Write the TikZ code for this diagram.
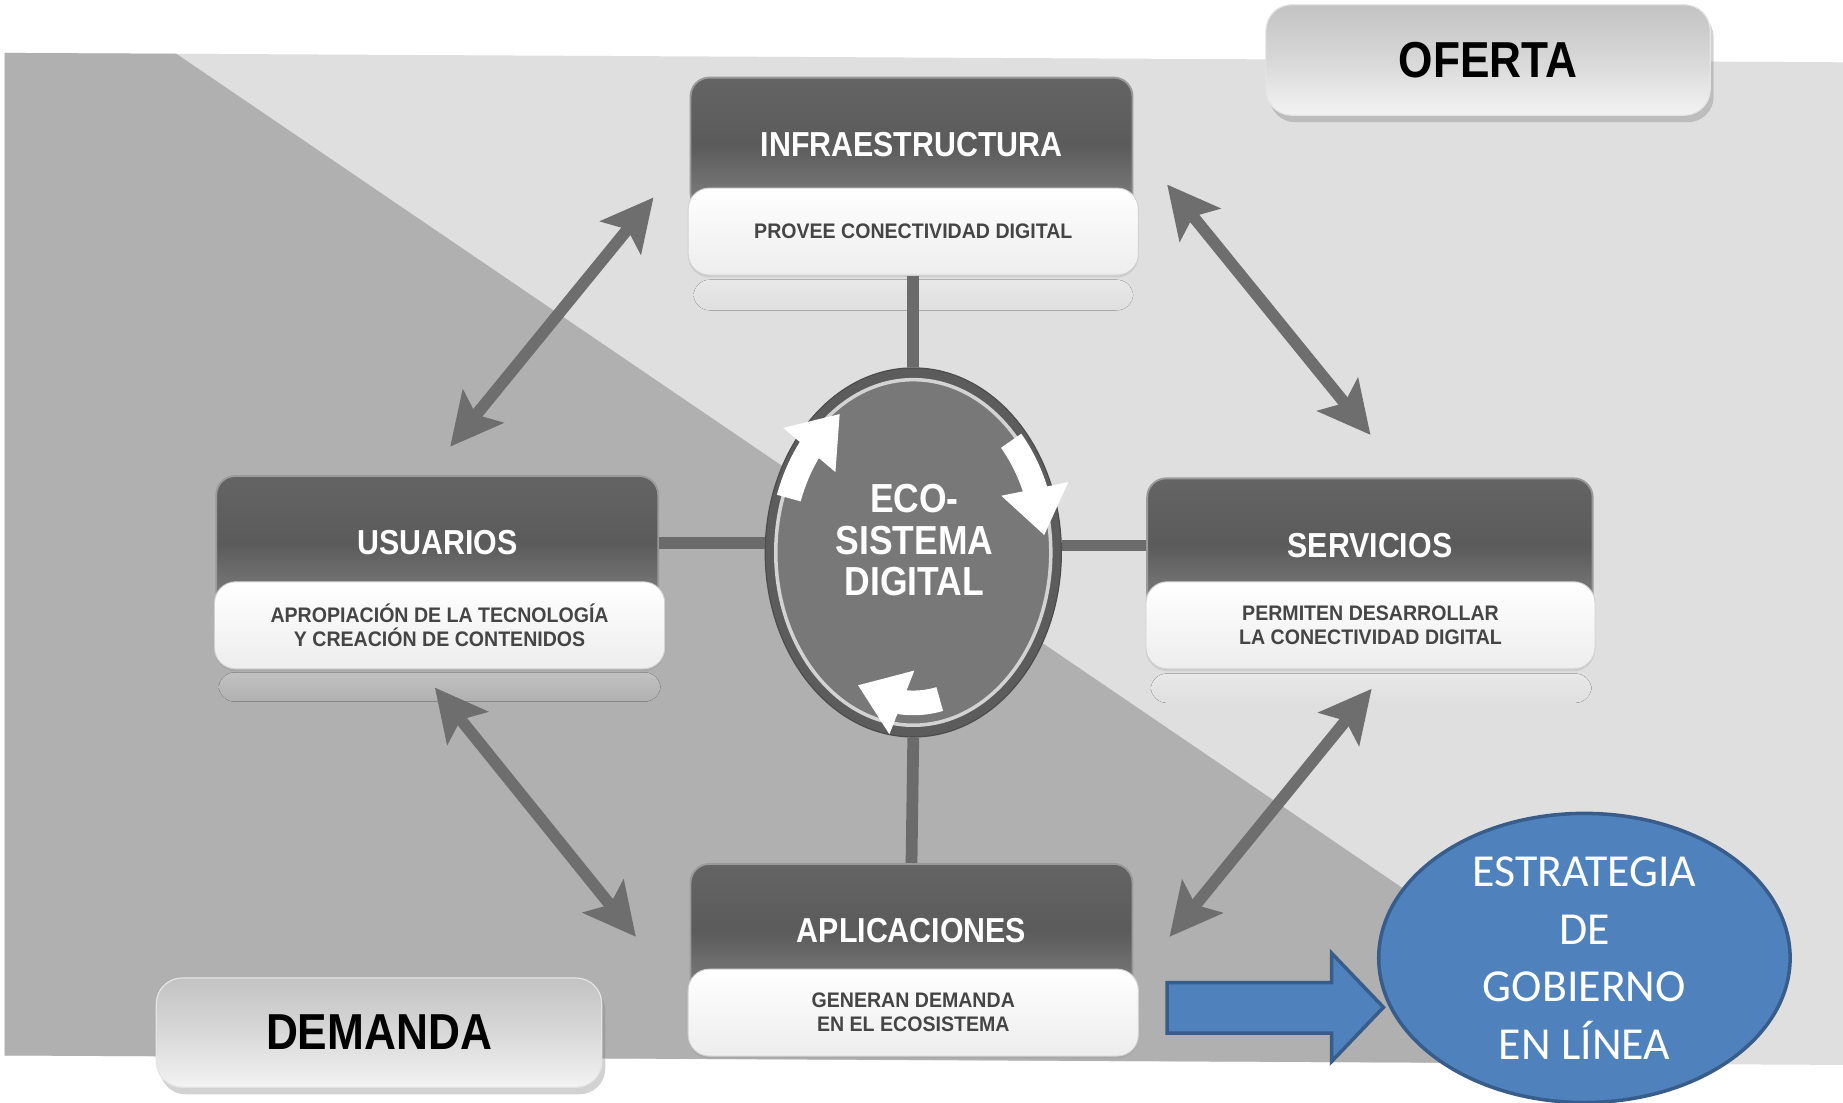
\documentclass[tikz,border=0pt]{standalone}
\usepackage{fontspec}
\setmainfont{Liberation Sans}
\newfontfamily\condfont[FakeStretch=0.875]{Liberation Sans}
\newfontfamily\subfontfam[FakeStretch=0.93]{Liberation Sans}
\newfontfamily\calib{Carlito}
\usetikzlibrary{shapes.geometric,arrows.meta,shadows,calc}
\definecolor{bgLight}{HTML}{DFDFDF}
\definecolor{bgDark}{HTML}{B0B0B0}
\definecolor{boxTop}{HTML}{646464}
\definecolor{boxMid}{HTML}{5B5B5B}
\definecolor{boxBot}{HTML}{828282}
\definecolor{boxEdge}{HTML}{9A9A9A}
\definecolor{whiteBot}{HTML}{EDEDED}
\definecolor{whiteEdge}{HTML}{D2D2D2}
\definecolor{subText}{HTML}{454545}
\definecolor{connGray}{HTML}{6B6B6B}
\definecolor{arrGray}{HTML}{6E6E6E}
\definecolor{ringDark}{HTML}{5C5C5C}
\definecolor{ringFill}{HTML}{787878}
\definecolor{ringLine}{HTML}{D3D3D3}
\definecolor{lblTop}{HTML}{C3C3C3}
\definecolor{lblMid}{HTML}{D8D8D8}
\definecolor{lblBot}{HTML}{F3F3F3}
\definecolor{lblEdge}{HTML}{E4E4E4}
\definecolor{govBlue}{HTML}{4F81BD}
\definecolor{govEdge}{HTML}{385D8A}
\tikzset{
  darkpart/.style={rectangle, rounded corners=16pt, minimum width=376pt, minimum height=114pt, inner sep=0pt,
    top color=boxTop, bottom color=boxBot, middle color=boxMid, draw=boxEdge, line width=1.6pt,
    text=white, font=\condfont\bfseries\fontsize{29.5}{32}\selectfont},
  whitepart/.style={rectangle, rounded corners=18pt, minimum width=383pt, minimum height=74pt, inner sep=0pt,
    top color=white, bottom color=whiteBot, draw=whiteEdge, line width=0.8pt, align=center,
    text=subText, font=\subfontfam\bfseries\fontsize{17.9}{20.5}\selectfont,
    drop shadow={shadow xshift=0pt, shadow yshift=-2pt, opacity=0.18}},
  labelbox/.style={rectangle, rounded corners=22pt, minimum width=378pt, minimum height=94pt, inner sep=0pt,
    top color=lblTop, bottom color=lblBot, middle color=lblMid, draw=lblEdge, line width=1pt,
    text=black, font=\condfont\bfseries\fontsize{43}{46}\selectfont,
    drop shadow={shadow xshift=3pt, shadow yshift=-6pt, opacity=0.35}},
  conn/.style={draw=connGray, line width=10pt},
  dbl/.style={draw=arrGray, line width=10pt,
    {Stealth[length=44pt,width=44pt,inset=9pt]}-{Stealth[length=44pt,width=44pt,inset=9pt]}},
  ringbody/.style={draw=white, line width=21pt},
  ringhead/.style={draw=white, line width=1pt, -{Triangle[length=40pt,width=58pt,fill=white]}},
  reflect/.style={rounded corners=14pt},
}
\begin{document}
\begin{tikzpicture}[x=1pt,y=-1pt]
\useasboundingbox (0,0) rectangle (1568,938);
% background bands
\fill[white] (0,0) rectangle (1568,938);
\fill[bgLight] (4,45) -- (1568,53) -- (1568,906) -- (4,898) -- cycle;
\fill[bgDark] (4,45) -- (150,45.7) -- (1413,905) -- (4,898) -- cycle;

% faint reflections under the boxes
\fill[reflect, top color=white!28!bgLight, bottom color=bgLight] (590,238) rectangle (964,264);
\fill[reflect, top color=white!22!bgDark, bottom color=bgDark] (186,572) rectangle (562,597);
\fill[reflect, top color=white!28!bgLight, bottom color=bgLight] (979,573) rectangle (1354,598);

% four boxes
\node[darkpart] (infT) at (775.5,123) {INFRAESTRUCTURA};
\node[whitepart] (infW) at (777,197) {PROVEE CONECTIVIDAD DIGITAL};

\node[darkpart] (usrT) at (372,462) {USUARIOS};
\node[whitepart] (usrW) at (374,532) {APROPIACIÓN DE LA TECNOLOGÍA\\Y CREACIÓN DE CONTENIDOS};

\node[darkpart, minimum width=379pt] (srvT) at (1165.5,464) {SERVICIOS};
\node[whitepart, minimum width=382pt] (srvW) at (1166,532) {PERMITEN DESARROLLAR\\LA CONECTIVIDAD DIGITAL};

\node[darkpart] (aplT) at (775.5,792) {APLICACIONES};
\node[whitepart] (aplW) at (777,861.5) {GENERAN DEMANDA\\EN EL ECOSISTEMA};

% central ecosystem ellipse
\node[ellipse, minimum width=252pt, minimum height=314pt, inner sep=0pt, fill=ringDark, draw=black!70, line width=1pt,
  path picture={\draw[fill=ringFill, draw=ringLine, line width=3pt]
     (path picture bounding box.center) ellipse [x radius=117pt, y radius=147pt];}] (eco) at (777,470) {};
\node[font=\condfont\bfseries\fontsize{34.5}{35.5}\selectfont, text=white, align=center, inner sep=0pt]
  (ecotxt) at (778,459.5) {ECO-\\SISTEMA\\DIGITAL};

% ring arrows (clockwise): curved body + head
\draw[ringbody] plot[domain=161:140, samples=30] ({777+112*cos(\x)},{470-142*sin(\x)});
\coordinate (h1b) at ({777+112*cos(142)},{470-142*sin(142)});
\coordinate (h1t) at ({777+112*cos(124)},{470-142*sin(124)});
\draw[ringhead] (h1b) -- (h1t);

\draw[ringbody] plot[domain=42:21, samples=30] ({777+112*cos(\x)},{470-142*sin(\x)});
\coordinate (h2b) at ({777+112*cos(23)},{470-142*sin(23)});
\coordinate (h2t) at ({777+112*cos(6)},{470-142*sin(6)});
\draw[ringhead] (h2b) -- (h2t);

\draw[ringbody] plot[domain=-77:-98, samples=30] ({777+100*cos(\x)},{470-128*sin(\x)});
\coordinate (h3b) at ({777+100*cos(-96)},{470-128*sin(-96)});
\coordinate (h3t) at ({777+100*cos(-118)},{470-128*sin(-118)});
\draw[ringhead] (h3b) -- (h3t);

% connectors from boxes to the centre
\draw[conn] (infW.south) -- (eco.north);
\draw[conn] (usrT.east) -- (usrT.east -| eco.west);
\draw[conn] (srvT.west -| eco.east) -- (srvT.west);
\draw[conn] (eco.south) -- (aplT.north);

% double-headed arrows between neighbouring boxes
\coordinate (u1) at (383,380);  \coordinate (i1) at (556,168);
\coordinate (i2) at (993,157);  \coordinate (s1) at (1166,370);
\coordinate (u2) at (370,585);  \coordinate (a1) at (541,797);
\coordinate (s2) at (1167,586); \coordinate (a2) at (995,797);
\draw[dbl] (u1) -- (i1);
\draw[dbl] (i2) -- (s1);
\draw[dbl] (u2) -- (a1);
\draw[dbl] (s2) -- (a2);

% labels OFERTA / DEMANDA
\node[labelbox] (oferta) at (1266,51) {OFERTA};
\node[labelbox, minimum width=379pt, minimum height=93pt] (demanda) at (322.5,878.5) {DEMANDA};

% blue block arrow and strategy ellipse
\draw[fill=govBlue, draw=govEdge, line width=3pt, line join=miter]
  (993,836) -- (1133,836) -- (1133,811) -- (1177,857) -- (1133,903) -- (1133,879) -- (993,879) -- cycle;
\node[ellipse, minimum width=350pt, minimum height=246pt, inner sep=0pt, fill=govBlue, draw=govEdge, line width=3pt,
  text=white, align=center, font=\calib\fontsize{39}{49}\selectfont] (gov) at (1348,815)
  {ESTRATEGIA\\DE\\GOBIERNO\\EN LÍNEA};
\end{tikzpicture}
\end{document}
